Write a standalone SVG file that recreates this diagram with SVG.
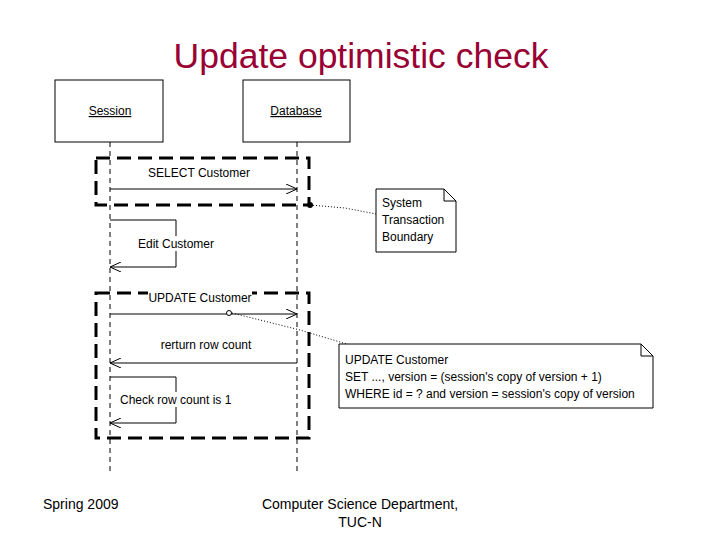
<svg xmlns="http://www.w3.org/2000/svg" width="720" height="540" viewBox="0 0 720 540">
<defs>
<marker id="open" markerWidth="12" markerHeight="10" refX="11" refY="5" orient="auto" markerUnits="userSpaceOnUse">
<path d="M0,0 L11,5 L0,10" fill="none" stroke="#000" stroke-width="1"/>
</marker>
<style>
.t{font-family:"Liberation Sans",Arial,sans-serif;font-size:12px;fill:#000}
.box{fill:#fff;stroke:#000;stroke-width:1}
.life{stroke:#000;stroke-width:1;stroke-dasharray:5,4;fill:none}
.tx{fill:none;stroke:#000;stroke-width:3;stroke-dasharray:14,7}
.msg{fill:none;stroke:#000;stroke-width:1}
.dot{fill:none;stroke:#000;stroke-width:1;stroke-dasharray:1,2}
.bg{fill:#fff}
</style>
</defs>
<rect width="720" height="540" fill="#fff"/>
<text x="361" y="68" text-anchor="middle" font-family="Liberation Sans,Arial,sans-serif" font-size="35.5" fill="#990033">Update optimistic check</text>

<g id="session">
<rect class="box" x="55" y="80" width="108" height="62"/>
<text class="t" x="110" y="115" text-anchor="middle" text-decoration="underline">Session</text>
</g>
<g id="database">
<rect class="box" x="243" y="80" width="107" height="62"/>
<text class="t" x="296" y="115" text-anchor="middle" text-decoration="underline">Database</text>
</g>

<g id="lifelines">
<line class="life" x1="110" y1="142" x2="110" y2="472"/>
<line class="life" x1="297" y1="142" x2="297" y2="472"/>
</g>

<g id="tx1">
<rect class="tx" x="96" y="158" width="213" height="47"/>
</g>
<g id="tx2">
<rect class="tx" x="96" y="293" width="213" height="145"/>
</g>

<g id="connectors">
<line class="msg" x1="110" y1="189" x2="297" y2="189" marker-end="url(#open)"/>
<polyline class="msg" points="110,220 176,220 176,267 110,267" marker-end="url(#open)"/>
<line class="msg" x1="110" y1="314" x2="297" y2="314" marker-end="url(#open)"/>
<line class="msg" x1="297" y1="363" x2="110" y2="363" marker-end="url(#open)"/>
<polyline class="msg" points="110,377 176,377 176,423 110,423" marker-end="url(#open)"/>
<circle cx="310" cy="205" r="3" fill="#000"/>
<path class="dot" d="M310,205 L345,208 L376,214"/>
<circle cx="229" cy="313" r="2.5" fill="#fff" stroke="#000"/>
<path class="dot" d="M232,313 L300,330 L350,345"/>
</g>

<g id="labels">
<text class="t" x="199" y="177" text-anchor="middle">SELECT Customer</text>
<rect class="bg" x="136" y="236" width="78" height="15"/>
<text class="t" x="138" y="248">Edit Customer</text>
<rect class="bg" x="148" y="289" width="104" height="14"/>
<text class="t" x="200" y="302" text-anchor="middle">UPDATE Customer</text>
<text class="t" x="206" y="349" text-anchor="middle">rerturn row count</text>
<rect class="bg" x="118" y="392" width="118" height="15"/>
<text class="t" x="120" y="404">Check row count is 1</text>
</g>

<g id="note1">
<path class="box" d="M376,189 L444,189 L456,201 L456,252 L376,252 Z"/>
<path class="msg" d="M444,189 L444,201 L456,201"/>
<text class="t" x="382" y="207">System</text>
<text class="t" x="382" y="224">Transaction</text>
<text class="t" x="382" y="241">Boundary</text>
</g>

<g id="note2">
<path class="box" d="M339,344 L641,344 L653,356 L653,408 L339,408 Z"/>
<path class="msg" d="M641,344 L641,356 L653,356"/>
<text class="t" x="345" y="364">UPDATE Customer</text>
<text class="t" x="345" y="381">SET ..., version = (session's copy of version + 1)</text>
<text class="t" x="345" y="398">WHERE id = ? and version = session's copy of version</text>
</g>

<g id="footer">
<text x="43" y="509" font-family="Liberation Sans,Arial,sans-serif" font-size="14" fill="#000">Spring 2009</text>
<text x="360" y="509" text-anchor="middle" font-family="Liberation Sans,Arial,sans-serif" font-size="14" fill="#000">Computer Science Department,</text>
<text x="360" y="527" text-anchor="middle" font-family="Liberation Sans,Arial,sans-serif" font-size="14" fill="#000">TUC-N</text>
</g>
</svg>
